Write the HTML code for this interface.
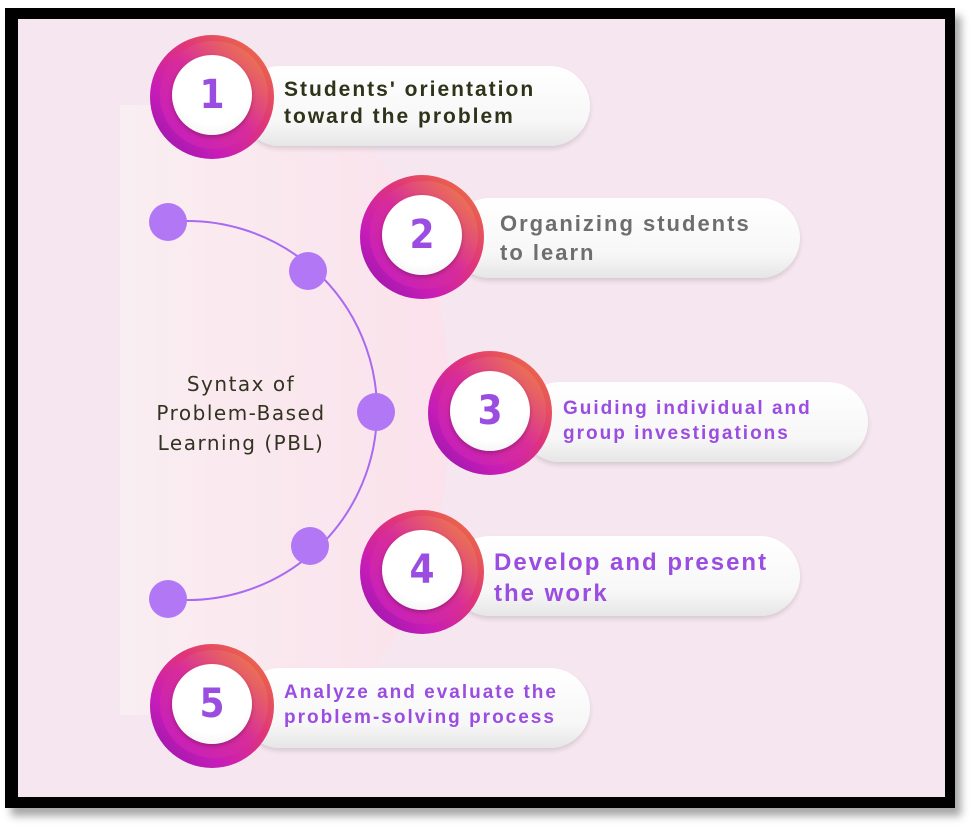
<!DOCTYPE html>
<html><head><meta charset="utf-8"><style>
body{margin:0;width:980px;height:832px;background:#fff;position:relative;overflow:hidden;font-family:"Liberation Sans",sans-serif}
.frame{position:absolute;left:5px;top:8px;width:950px;height:800px;background:#000;box-shadow:6px 8px 8px rgba(0,0,0,.35)}
.inner{position:absolute;left:18px;top:19px;width:927px;height:778px;background:#f6e6f0}
.band{position:absolute;left:120px;top:105px;width:330px;height:610px;background:linear-gradient(90deg,#f9eef2,#fbe1eb);border-radius:0 50% 50% 0/0 50% 50% 0}
.pill{position:absolute;height:80px;border-radius:40px;background:linear-gradient(180deg,#fff 0%,#f7f7f7 70%,#e6e6e6 100%);box-shadow:0 3px 5px rgba(0,0,0,.12)}
.pill span{position:absolute;font-weight:bold;letter-spacing:2px;line-height:1.3;white-space:nowrap}
.c{position:absolute;width:124px;height:124px;border-radius:50%;background:linear-gradient(225deg,#f07a34 0%,#e0357a 40%,#c81cb8 70%,#8c18a8 100%)}
.c::before{content:"";position:absolute;left:10px;top:6px;width:108px;height:108px;border-radius:50%;background:linear-gradient(225deg,#f28a3a,#d82c9a 50%,#c21cc4)}
.c i{position:absolute;left:22px;top:20px;width:80px;height:80px;border-radius:50%;background:radial-gradient(circle at 50% 40%,#fff 60%,#eaeaea 100%);box-shadow:0 2px 4px rgba(0,0,0,.25);font-style:normal;font-weight:bold;color:#9a4de0;font-size:40px;text-align:center;line-height:80px;font-family:"DejaVu Sans Condensed","Liberation Sans",sans-serif}
</style></head><body>
<div class="frame"></div>
<div class="inner"></div>
<div class="band"></div>
<svg style="position:absolute;left:0;top:0" width="980" height="832">
<path d="M168 222 A189.5 189.5 0 1 1 168 599" fill="none" stroke="#a86af0" stroke-width="2"/>
<g fill="#b277f5"><circle cx="168" cy="222" r="19"/><circle cx="308" cy="271" r="19"/><circle cx="376" cy="412" r="19"/><circle cx="310" cy="546" r="19"/><circle cx="168" cy="599" r="19"/></g>
<g font-family="DejaVu Sans, Liberation Sans, sans-serif" font-size="20" letter-spacing="1.5" fill="#333322" text-anchor="middle"><text x="241" y="391">Syntax of</text><text x="241" y="420">Problem-Based</text><text x="241" y="450">Learning (PBL)</text></g>
</svg>
<div class="pill" style="left:240px;top:66px;width:350px"><span style="left:44px;top:10px;font-size:21px;color:#2e3319">Students' orientation<br>toward the problem</span></div>
<div class="c" style="left:150px;top:35px"><i>1</i></div>
<div class="pill" style="left:450px;top:198px;width:350px"><span style="left:50px;top:12px;font-size:22px;color:#6e6e6e">Organizing students<br>to learn</span></div>
<div class="c" style="left:360px;top:175px"><i>2</i></div>
<div class="pill" style="left:520px;top:382px;width:348px"><span style="left:43px;top:15px;font-size:19px;color:#9a4de0">Guiding individual and<br>group investigations</span></div>
<div class="c" style="left:428px;top:351px"><i>3</i></div>
<div class="pill" style="left:450px;top:536px;width:350px"><span style="left:44px;top:11px;font-size:24px;color:#9a4de0">Develop and present<br>the work</span></div>
<div class="c" style="left:360px;top:510px"><i>4</i></div>
<div class="pill" style="left:240px;top:668px;width:350px"><span style="left:44px;top:13px;font-size:19px;color:#9a4de0">Analyze and evaluate the<br>problem-solving process</span></div>
<div class="c" style="left:150px;top:644px"><i>5</i></div>
</body></html>
